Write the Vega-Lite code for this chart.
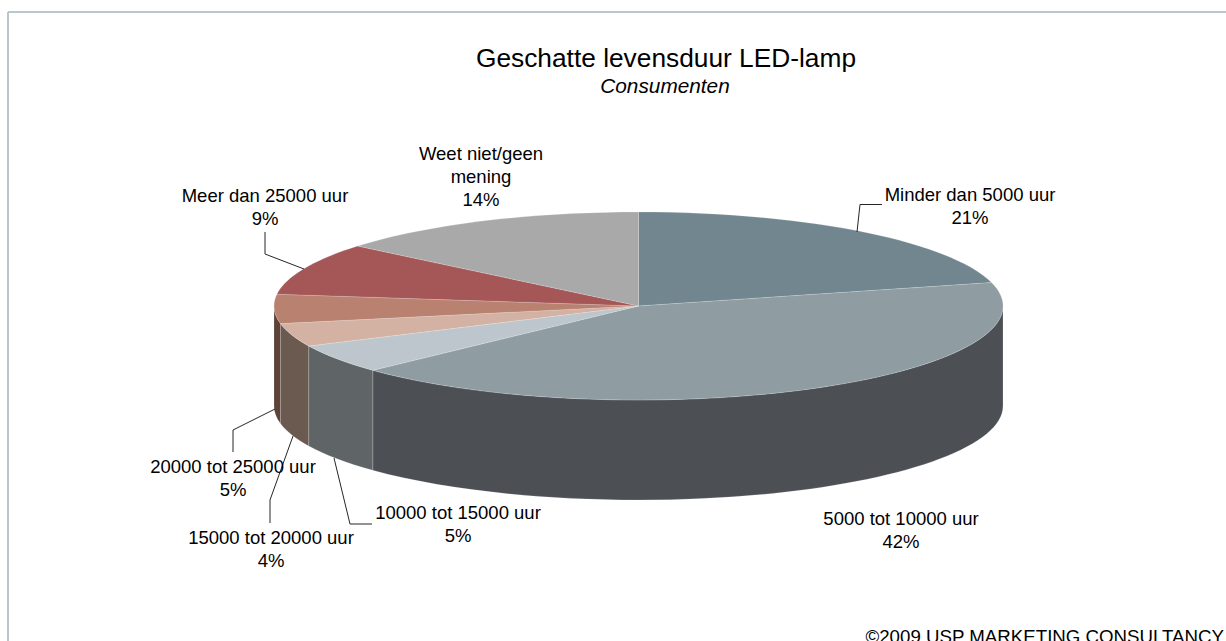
{
"$schema":"https://vega.github.io/schema/vega-lite/v6.json",
"width":1226,"height":641,"padding":0,"autosize":{"type":"none"},
"background":"#ffffff",
"view":{"stroke":null},
"params":[{"name":"cx","value":638.5},{"name":"cy","value":306},{"name":"rx","value":364.5},{"name":"ry","value":94},{"name":"depth","value":100}],
"datasets":{"slices":[
{"label":"Minder dan 5000 uur","value":21,"order":1},
{"label":"5000 tot 10000 uur","value":42,"order":2},
{"label":"10000 tot 15000 uur","value":5,"order":3},
{"label":"15000 tot 20000 uur","value":4,"order":4},
{"label":"20000 tot 25000 uur","value":5,"order":5},
{"label":"Meer dan 25000 uur","value":9,"order":6},
{"label":"Weet niet/geen mening","value":14,"order":7}
]},
"data":{"name":"slices"},
"transform":[
{"window":[{"op":"sum","field":"value","as":"cum"}],"sort":[{"field":"order"}]},
{"calculate":"(datum.cum-datum.value)*3.6*PI/180","as":"a0"},
{"calculate":"datum.cum*3.6*PI/180","as":"a1"},
{"calculate":"round(100*rx*sin(datum.a0))/100","as":"tx0"},
{"calculate":"round(-100*ry*cos(datum.a0))/100","as":"ty0"},
{"calculate":"round(100*rx*sin(datum.a1))/100","as":"tx1"},
{"calculate":"round(-100*ry*cos(datum.a1))/100","as":"ty1"},
{"calculate":"'M0,0L'+datum.tx0+','+datum.ty0+'A'+rx+','+ry+' 0 '+(datum.a1-datum.a0>PI?1:0)+' 1 '+datum.tx1+','+datum.ty1+'Z'","as":"topPath"},
{"calculate":"max(datum.a0,PI/2)","as":"s0"},
{"calculate":"min(datum.a1,3*PI/2)","as":"s1"},
{"calculate":"round(100*rx*sin(datum.s0))/100","as":"sx0"},
{"calculate":"round(-100*ry*cos(datum.s0))/100","as":"sy0"},
{"calculate":"round(100*rx*sin(datum.s1))/100","as":"sx1"},
{"calculate":"round(-100*ry*cos(datum.s1))/100","as":"sy1"},
{"calculate":"'M'+datum.sx0+','+datum.sy0+'A'+rx+','+ry+' 0 0 1 '+datum.sx1+','+datum.sy1+'L'+datum.sx1+','+(datum.sy1+depth)+'A'+rx+','+ry+' 0 0 0 '+datum.sx0+','+(datum.sy0+depth)+'Z'","as":"sidePath"},
{"calculate":"cx","as":"px"},
{"calculate":"cy","as":"py"},
{"calculate":"({'Minder dan 5000 uur':[970,195],'5000 tot 10000 uur':[901,519],'10000 tot 15000 uur':[458,513],'15000 tot 20000 uur':[271,538],'20000 tot 25000 uur':[233,467],'Meer dan 25000 uur':[265,196],'Weet niet/geen mening':[481,154]})[datum.label]","as":"tpos"},
{"calculate":"({'Minder dan 5000 uur':[[882,204.5],[860,204.5],[857,232]],'10000 tot 15000 uur':[[372,524],[350,524],[334,458]],'15000 tot 20000 uur':[[270,523],[270,500],[293,436]],'20000 tot 25000 uur':[[233,452],[233,430],[275,409]],'Meer dan 25000 uur':[[265,232],[265,254],[304,269]]})[datum.label]","as":"pts"},
{"calculate":"replace(datum.label,'geen mening','geen\\nmening')+'\\n'+datum.value+'%'","as":"txt"}
],
"layer":[
{"data":{"values":[{"k":"frame"}]},"transform":[],
 "mark":{"type":"rule","stroke":"#b9c6ca","strokeWidth":2},
 "encoding":{"x":{"datum":8,"type":"quantitative","scale":{"domain":[0,1226],"nice":false,"zero":false},"axis":null},"x2":{"datum":1226},"y":{"datum":12,"type":"quantitative","scale":{"domain":[641,0],"nice":false,"zero":false},"axis":null}}},
{"data":{"values":[{"k":"frame"}]},"transform":[],
 "mark":{"type":"rule","stroke":"#b9c6ca","strokeWidth":2},
 "encoding":{"x":{"datum":8,"type":"quantitative","scale":{"domain":[0,1226],"nice":false,"zero":false},"axis":null},"y":{"datum":12,"type":"quantitative","scale":{"domain":[641,0],"nice":false,"zero":false},"axis":null},"y2":{"datum":641}}},
{"transform":[{"filter":"datum.s1>datum.s0"}],
 "mark":{"type":"point","filled":true,"opacity":1,"size":4,"stroke":"#ffffff","strokeWidth":0.5,"strokeOpacity":0.35},
 "encoding":{"x":{"field":"px","type":"quantitative","scale":{"domain":[0,1226],"nice":false,"zero":false},"axis":null},"y":{"field":"py","type":"quantitative","scale":{"domain":[641,0],"nice":false,"zero":false},"axis":null},
  "shape":{"field":"sidePath","type":"nominal","scale":null},
  "color":{"field":"label","type":"nominal","legend":null,"scale":{"domain":["5000 tot 10000 uur","10000 tot 15000 uur","15000 tot 20000 uur","20000 tot 25000 uur"],"range":["#4c5054","#5f6467","#6b5a50","#5e4238"]}}}},
{"mark":{"type":"point","filled":true,"opacity":1,"size":4,"stroke":"#ffffff","strokeWidth":0.5,"strokeOpacity":0.35},
 "encoding":{"x":{"field":"px","type":"quantitative","scale":{"domain":[0,1226],"nice":false,"zero":false},"axis":null},"y":{"field":"py","type":"quantitative","scale":{"domain":[641,0],"nice":false,"zero":false},"axis":null},
  "shape":{"field":"topPath","type":"nominal","scale":null},
  "color":{"field":"label","type":"nominal","legend":null,"scale":{"domain":["Minder dan 5000 uur","5000 tot 10000 uur","10000 tot 15000 uur","15000 tot 20000 uur","20000 tot 25000 uur","Meer dan 25000 uur","Weet niet/geen mening"],"range":["#71868e","#8f9da3","#bcc6cc","#d3b1a3","#b98270","#a55757","#a9a9a9"]}}}},
{"transform":[{"filter":"isArray(datum.pts)"},{"flatten":["pts"],"as":["pt"]},{"window":[{"op":"row_number","as":"i"}],"groupby":["label"]},{"calculate":"datum.pt[0]","as":"lx"},{"calculate":"datum.pt[1]","as":"ly"}],
 "mark":{"type":"line","color":"#262626","strokeWidth":1},
 "encoding":{"x":{"field":"lx","type":"quantitative","scale":{"domain":[0,1226],"nice":false,"zero":false},"axis":null},"y":{"field":"ly","type":"quantitative","scale":{"domain":[641,0],"nice":false,"zero":false},"axis":null},"detail":{"field":"label"},"order":{"field":"i"}}},
{"transform":[{"calculate":"datum.tpos[0]","as":"tx"},{"calculate":"datum.tpos[1]","as":"ty"}],
 "mark":{"type":"text","font":"Liberation Sans","fontSize":18.5,"lineBreak":"\n","lineHeight":23,"align":"center","baseline":"middle","color":"#000000"},
 "encoding":{"x":{"field":"tx","type":"quantitative","scale":{"domain":[0,1226],"nice":false,"zero":false},"axis":null},"y":{"field":"ty","type":"quantitative","scale":{"domain":[641,0],"nice":false,"zero":false},"axis":null},"text":{"field":"txt"}}},
{"data":{"values":[{"t":"Geschatte levensduur LED-lamp"}]},"transform":[],
 "mark":{"type":"text","font":"Liberation Sans","fontSize":26.3,"align":"center","baseline":"middle","color":"#000000"},
 "encoding":{"x":{"datum":666,"type":"quantitative","scale":{"domain":[0,1226],"nice":false,"zero":false},"axis":null},"y":{"datum":59,"type":"quantitative","scale":{"domain":[641,0],"nice":false,"zero":false},"axis":null},"text":{"field":"t"}}},
{"data":{"values":[{"t":"Consumenten"}]},"transform":[],
 "mark":{"type":"text","font":"Liberation Sans","fontSize":20.8,"fontStyle":"italic","align":"center","baseline":"middle","color":"#000000"},
 "encoding":{"x":{"datum":665,"type":"quantitative","scale":{"domain":[0,1226],"nice":false,"zero":false},"axis":null},"y":{"datum":87,"type":"quantitative","scale":{"domain":[641,0],"nice":false,"zero":false},"axis":null},"text":{"field":"t"}}},
{"data":{"values":[{"t":"©2009 USP MARKETING CONSULTANCY"}]},"transform":[],
 "mark":{"type":"text","font":"Liberation Sans","fontSize":18.7,"align":"right","baseline":"alphabetic","dy":2,"color":"#000000"},
 "encoding":{"x":{"datum":1224,"type":"quantitative","scale":{"domain":[0,1226],"nice":false,"zero":false},"axis":null},"y":{"datum":641,"type":"quantitative","scale":{"domain":[641,0],"nice":false,"zero":false},"axis":null},"text":{"field":"t"}}}
],
"resolve":{"scale":{"color":"independent"}},
"config":{"legend":{"disable":true}}
}
